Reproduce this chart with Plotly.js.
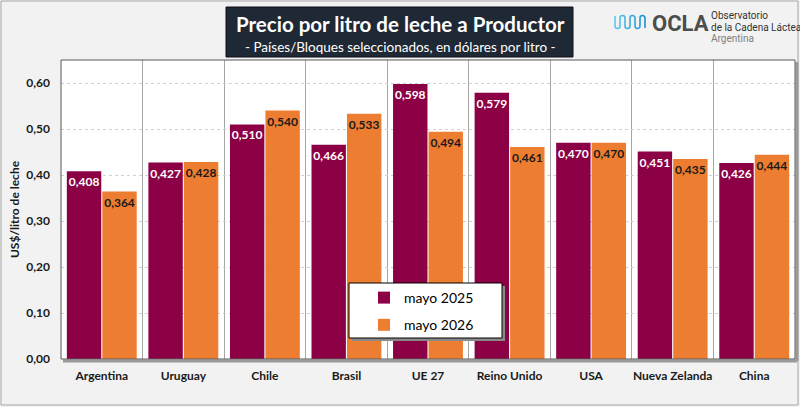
<!DOCTYPE html>
<html>
<head>
<meta charset="utf-8">
<script src="https://cdn.plot.ly/plotly-3.0.1.min.js"></script>
<style>
  html, body { margin: 0; padding: 0; background: #f2f2f2; }
  #chart { width: 800px; height: 407px; }
</style>
</head>
<body>
<div id="chart"></div>
<script>
// data
const paises = ['Argentina', 'Uruguay', 'Chile', 'Brasil', 'UE 27', 'Reino Unido', 'USA', 'Nueva Zelanda', 'China'];
const mayo2025 = [0.408, 0.427, 0.510, 0.466, 0.598, 0.579, 0.470, 0.451, 0.426];
const mayo2026 = [0.364, 0.428, 0.540, 0.533, 0.494, 0.461, 0.470, 0.435, 0.444];
const yTicks = [0, 0.1, 0.2, 0.3, 0.4, 0.5, 0.6];

const W = 800, H = 407;
const M = { l: 61, r: 5, t: 60, b: 48 };
const PW = W - M.l - M.r, PH = H - M.t - M.b;
// pixel -> paper coords
const px = x => (x - M.l) / PW;
const py = y => (H - M.b - y) / PH;

const FONT = 'Lato, "Open Sans", sans-serif';
const MAROON = '#8c0045';
const ORANGE = '#ed7d31';

const traces = [
  {
    type: 'bar', name: 'mayo 2025', x: paises, y: mayo2025,
    marker: { color: MAROON },
    texttemplate: '%{y:.3f}', textposition: 'inside', insidetextanchor: 'end',
    textangle: 0, constraintext: 'none',
    insidetextfont: { family: FONT, size: 12, color: '#ffffff', weight: 'bold' },
    legendgroup: 'a', hoverinfo: 'skip'
  },
  {
    type: 'bar', name: 'mayo 2026', x: paises, y: mayo2026,
    marker: { color: ORANGE },
    texttemplate: '%{y:.3f}', textposition: 'inside', insidetextanchor: 'end',
    textangle: 0, constraintext: 'none',
    insidetextfont: { family: FONT, size: 12, color: '#1a1a1a', weight: 'bold' },
    legendgroup: 'b', hoverinfo: 'skip'
  }
];

const waveSvg = "<svg xmlns='http://www.w3.org/2000/svg' width='36' height='20' viewBox='0 0 36 20'>" +
  "<defs><linearGradient id='g' x1='0' x2='1'><stop offset='0' stop-color='#5fc8ef'/><stop offset='1' stop-color='#1b8fd0'/></linearGradient></defs>" +
  "<path d='M1,4 V14 a2.5,2.5 0 0 0 5,0 V6 a2.5,2.5 0 0 1 5,0 V14 a2.5,2.5 0 0 0 5,0 V6 a2.5,2.5 0 0 1 5,0 V14 a2.5,2.5 0 0 0 5,0 V6 a2.5,2.5 0 0 1 5,0 V16' " +
  "fill='none' stroke='url(#g)' stroke-width='1.6'/></svg>";

const shapes = [
  // outer frame
  { type: 'rect', xref: 'paper', yref: 'paper', x0: px(1), x1: px(798), y0: py(1), y1: py(405),
    line: { color: '#a6a6a6', width: 1 }, fillcolor: 'rgba(0,0,0,0)', layer: 'below' },
  // title box
  { type: 'rect', xref: 'paper', yref: 'paper', x0: px(226), x1: px(573), y0: py(7), y1: py(57),
    line: { color: '#0d1117', width: 1 }, fillcolor: '#1f2935' },
  // plot area shadow + border
  { type: 'line', xref: 'paper', yref: 'paper', x0: px(63), x1: px(797), y0: py(361), y1: py(361),
    line: { color: '#9a9a9a', width: 3 } },
  { type: 'line', xref: 'paper', yref: 'paper', x0: px(797), x1: px(797), y0: py(62), y1: py(361),
    line: { color: '#9a9a9a', width: 3 } },
  { type: 'rect', xref: 'paper', yref: 'paper', x0: 0, x1: 1, y0: 0, y1: 1,
    line: { color: '#595959', width: 1 }, fillcolor: 'rgba(0,0,0,0)' },
  // legend box with shadow
  { type: 'rect', xref: 'paper', yref: 'paper', x0: px(352), x1: px(505), y0: py(341), y1: py(286),
    line: { width: 0 }, fillcolor: '#8a8a8a' },
  { type: 'rect', xref: 'paper', yref: 'paper', x0: px(349), x1: px(502), y0: py(338), y1: py(283),
    line: { color: '#000000', width: 1 }, fillcolor: '#ffffff' }
];

const annotations = [
  { xref: 'paper', yref: 'paper', x: px(400), y: py(24), text: '<b>Precio por litro de leche a Productor</b>',
    showarrow: false, font: { family: FONT, size: 20.5, color: '#ffffff' }, xanchor: 'center', yanchor: 'middle' },
  { xref: 'paper', yref: 'paper', x: px(400), y: py(47), text: '- Países/Bloques seleccionados, en dólares por litro -',
    showarrow: false, font: { family: FONT, size: 13.5, color: '#ffffff' }, xanchor: 'center', yanchor: 'middle' },
  { xref: 'paper', yref: 'paper', x: px(650), y: py(23), text: '<b>OCLA</b>',
    showarrow: false, font: { family: 'Roboto, sans-serif', size: 22, color: '#4d4d4d' }, xanchor: 'left', yanchor: 'middle' },
  { xref: 'paper', yref: 'paper', x: px(709), y: py(15), text: 'Observatorio',
    showarrow: false, font: { family: 'Roboto, sans-serif', size: 10, color: '#333333' }, xanchor: 'left', yanchor: 'middle' },
  { xref: 'paper', yref: 'paper', x: px(709), y: py(27), text: 'de la Cadena Láctea',
    showarrow: false, font: { family: 'Roboto, sans-serif', size: 10, color: '#333333' }, xanchor: 'left', yanchor: 'middle' },
  { xref: 'paper', yref: 'paper', x: px(709), y: py(38), text: 'Argentina',
    showarrow: false, font: { family: 'Roboto, sans-serif', size: 10, color: '#808080' }, xanchor: 'left', yanchor: 'middle' }
];

const layout = {
  width: W, height: H,
  margin: M,
  paper_bgcolor: '#f2f2f2',
  plot_bgcolor: '#ffffff',
  separators: ',.',
  font: { family: FONT, size: 12, color: '#1a1a1a' },
  barmode: 'group',
  bargap: 0.13,
  bargroupgap: 0.03,
  xaxis: {
    type: 'category', tickson: 'boundaries', showgrid: true, gridcolor: '#a6a6a6', gridwidth: 1,
    ticks: '', showline: false, zeroline: false, tickangle: 0, automargin: false,
    tickfont: { family: FONT, size: 12, color: '#1a1a1a', weight: 'bold' }, ticklabelstandoff: 8
  },
  yaxis: {
    range: [0, 0.65], tickvals: yTicks, tickformat: '.2f', showgrid: true,
    gridcolor: '#d0d0d0', griddash: 'dot', zeroline: false, showline: false, ticks: '',
    automargin: false,
    tickfont: { family: FONT, size: 12, color: '#1a1a1a', weight: 'bold' }, ticklabelstandoff: 10,
    title: { text: 'US$/litro de leche', font: { family: FONT, size: 12, color: '#1a1a1a', weight: 'bold' }, standoff: 4 }
  },
  showlegend: true,
  legend: {
    x: px(364), y: py(282), xanchor: 'left', yanchor: 'top',
    bgcolor: 'rgba(0,0,0,0)', borderwidth: 0, tracegroupgap: 6,
    font: { family: FONT, size: 14, color: '#000000' }, itemwidth: 30
  },
  shapes: shapes,
  annotations: annotations,
  images: [{
    source: 'data:image/svg+xml;charset=utf-8,' + encodeURIComponent(waveSvg),
    xref: 'paper', yref: 'paper', x: px(614), y: py(12), sizex: 36 / PW, sizey: 20 / PH,
    xanchor: 'left', yanchor: 'top', sizing: 'stretch', layer: 'above'
  }]
};

Plotly.newPlot('chart', traces, layout, { staticPlot: true });
</script>
</body>
</html>
